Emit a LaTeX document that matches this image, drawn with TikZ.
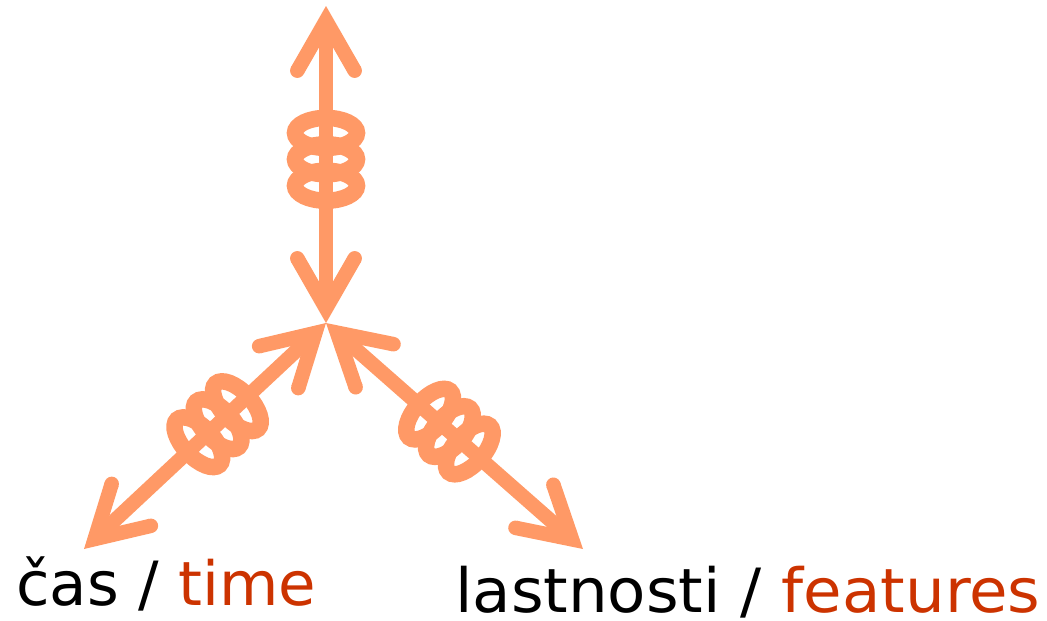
\documentclass[tikz,border=0pt]{standalone}
\usepackage{fontspec}
\setmainfont{DejaVu Sans}
\usetikzlibrary{calc}
\definecolor{acol}{HTML}{FF9966}
\definecolor{tred}{HTML}{CC3300}
\tikzset{
  shaft/.style={draw=acol, line width=14.5pt, shorten >=20pt, shorten <=20pt},
  coilring/.style={draw=acol, line width=16.5pt},
  label/.style={anchor=base west, inner sep=0pt, text depth=0pt, font=\fontsize{61}{70}\selectfont},
  ahead/.pic={
    \fill[acol] (0,0) -- (-61.1,35.0) -- (-64.7,28.7) -- (-68.3,22.4) -- (-29.2,0)
      -- (-68.3,-22.4) -- (-64.7,-28.7) -- (-61.1,-35.0) -- cycle;
    \fill[acol] (-64.7,28.7) circle[radius=7.25] (-64.7,-28.7) circle[radius=7.25];
  },
  coil/.pic={
    \foreach \d in {-26.4,0,26.4}
      \draw[coilring] (\d,0) ellipse[x radius=15, y radius=31];
  }
}
\begin{document}
\begin{tikzpicture}[x=1pt, y=-1pt]
\useasboundingbox (0,0) rectangle (1047,621);
\coordinate (O) at (326,323);
\coordinate (T) at (326,6);
\coordinate (L) at (84,549);
\coordinate (R) at (583,549);
% shafts
\draw[shaft] (O) -- (T);
\draw[shaft] (O) -- (L);
\draw[shaft] (O) -- (R);
% coils
\pic[rotate=90] at ($(O)!163.7pt!(T)$) {coil};
\pic[rotate=-136.96] at ($(O)!148.3pt!(L)$) {coil};
\pic[rotate=-41.33] at ($(O)!164.4pt!(R)$) {coil};
% arrowheads
\pic[rotate=90] at (T) {ahead};
\pic[rotate=-90] at (O) {ahead};
\pic[rotate=-136.96] at (L) {ahead};
\pic[rotate=43.04] at (O) {ahead};
\pic[rotate=-41.33] at (R) {ahead};
\pic[rotate=138.67] at (O) {ahead};
% labels
\node[label] (tlabel) at (16,605) {čas / \textcolor{tred}{time}};
\node[label] (flabel) at (455,612) {\scalebox{1.027}[1]{lastnosti / \textcolor{tred}{features}}};
\end{tikzpicture}
\end{document}
